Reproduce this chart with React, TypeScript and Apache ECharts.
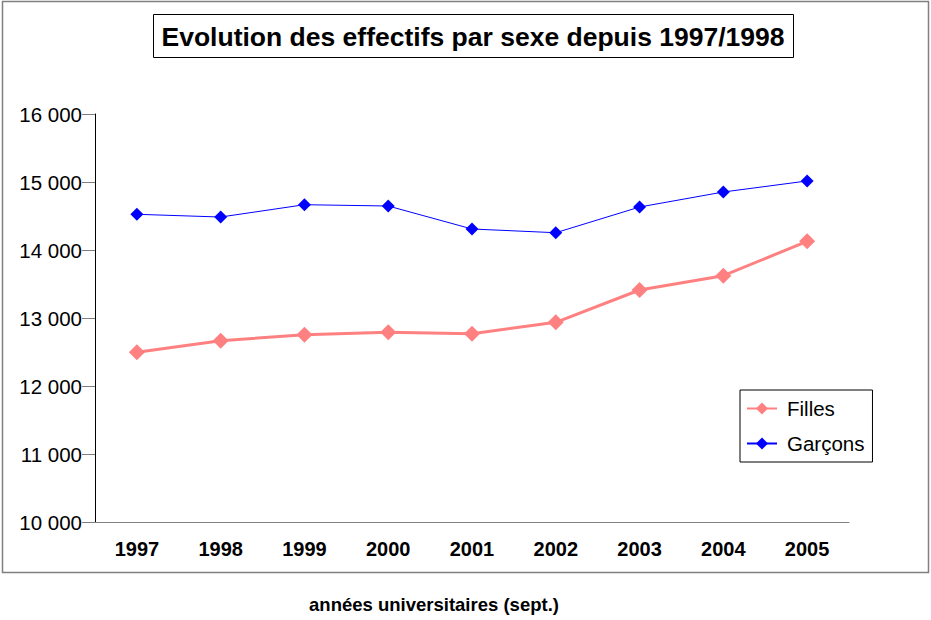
import React, { useEffect, useRef } from "react";
import * as echarts from "echarts";

const years = ["1997", "1998", "1999", "2000", "2001", "2002", "2003", "2004", "2005"];
const filles = [12496, 12666, 12754, 12790, 12769, 12937, 13412, 13622, 14128];
const garcons = [14525, 14485, 14666, 14647, 14309, 14254, 14632, 14853, 15015];
const titleText = "Evolution des effectifs par sexe depuis 1997/1998";
const xName = "années universitaires (sept.)";

const FONT = "'Liberation Sans', Arial, sans-serif";

export default function App() {
  const ref = useRef<HTMLDivElement>(null);
  useEffect(() => {
    if (!ref.current) return;
    const chart = echarts.init(ref.current, null, { renderer: "svg" });
    chart.setOption({
      animation: false,
      backgroundColor: "#fff",
      textStyle: { fontFamily: FONT },
      grid: { left: 95, right: 82, top: 114, bottom: 98 },
      graphic: [
        {
          type: "rect",
          shape: { x: 2.5, y: 1.5, width: 926, height: 571 },
          style: { fill: "none", stroke: "#808080", lineWidth: 1.5 },
          z: 0,
        },
        {
          type: "rect",
          shape: { x: 153.5, y: 14.5, width: 640, height: 43 },
          style: { fill: "#fff", stroke: "#000", lineWidth: 1 },
          z: 1,
        },
        {
          type: "text",
          x: 473,
          y: 37,
          style: {
            text: titleText,
            fontFamily: FONT,
            fontWeight: "bold",
            fontSize: 26.5,
            fill: "#000",
            align: "center",
            verticalAlign: "middle",
          },
          z: 2,
        },
        {
          type: "text",
          x: 434,
          y: 604,
          style: {
            text: xName,
            fontFamily: FONT,
            fontWeight: "bold",
            fontSize: 18.5,
            fill: "#000",
            align: "center",
            verticalAlign: "middle",
          },
          z: 2,
        },
      ],
      legend: {
        orient: "vertical",
        left: 740,
        top: 390,
        backgroundColor: "#fff",
        borderColor: "#000",
        borderWidth: 1,
        padding: [8, 8, 8, 6],
        itemGap: 14,
        itemWidth: 30,
        itemHeight: 15,
        textStyle: { fontFamily: FONT, fontSize: 20.5, color: "#000", padding: [0, 0, 0, 5] },
        data: ["Filles", "Garçons"],
      },
      xAxis: {
        type: "category",
        data: years,
        boundaryGap: true,
        axisLine: { lineStyle: { color: "#808080", width: 1 } },
        axisTick: { alignWithLabel: false, length: 12, lineStyle: { color: "#808080" } },
        axisLabel: {
          fontFamily: FONT,
          fontSize: 20,
          fontWeight: "bold",
          color: "#000",
          margin: 17,
        },
        splitLine: { show: false },
      },
      yAxis: {
        type: "value",
        min: 10000,
        max: 16000,
        interval: 1000,
        axisLine: { show: true, lineStyle: { color: "#000", width: 1 } },
        axisTick: { show: true, length: 13, lineStyle: { color: "#808080" } },
        axisLabel: {
          fontFamily: FONT,
          fontSize: 20.5,
          color: "#000",
          margin: 13,
          formatter: (v: number) => {
            const s = String(Math.round(v));
            return s.replace(/\B(?=(\d{3})+(?!\d))/g, " ");
          },
        },
        splitLine: { show: false },
      },
      series: [
        {
          name: "Filles",
          type: "line",
          data: filles,
          symbol: "diamond",
          symbolSize: 16,
          lineStyle: { color: "#FF8080", width: 3 },
          itemStyle: { color: "#FF8080" },
          z: 3,
        },
        {
          name: "Garçons",
          type: "line",
          data: garcons,
          symbol: "diamond",
          symbolSize: 13,
          lineStyle: { color: "#0000FF", width: 1 },
          itemStyle: { color: "#0000FF" },
          z: 4,
        },
      ],
    });
    return () => chart.dispose();
  }, []);
  return (
    <div
      ref={ref}
      style={{ position: "absolute", left: 0, top: 0, width: 931, height: 620 }}
    />
  );
}
